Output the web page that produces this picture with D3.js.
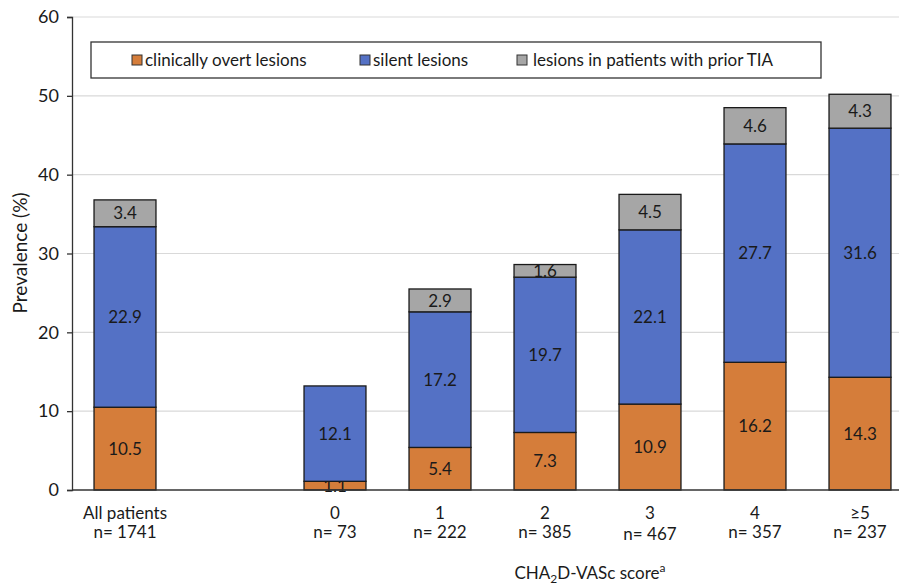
<!DOCTYPE html>
<html>
<head>
<meta charset="utf-8">
<script src="https://cdn.jsdelivr.net/npm/d3@7"></script>
<style>
  body { margin: 0; background: #fff; }
  text { font-family: Lato, "Open Sans", sans-serif; fill: #1a1a1a; }
</style>
</head>
<body>
<div id="chart"></div>
<script>
// chart values
const groups = ["All patients", "0", "1", "2", "3", "4", "\u22655"];
const nLabels = ["n= 1741", "n= 73", "n= 222", "n= 385", "n= 467", "n= 357", "n= 237"];
const overt = [10.5, 1.1, 5.4, 7.3, 10.9, 16.2, 14.3];
const silent = [22.9, 12.1, 17.2, 19.7, 22.1, 27.7, 31.6];
const priorTia = [3.4, 0, 2.9, 1.6, 4.5, 4.6, 4.3];
const seriesNames = ["clinically overt lesions", "silent lesions", "lesions in patients with prior TIA"];
const yTicks = [0, 10, 20, 30, 40, 50, 60];

const colors = ["#d57d3a", "#5471c5", "#a6a6a6"];

const width = 899;
const height = 585;

const svg = d3.select("#chart")
  .append("svg")
  .attr("width", width)
  .attr("height", height);

// the gap slot between "All patients" and the score groups
const domain = [groups[0], "gap"].concat(groups.slice(1));

const x = d3.scaleBand()
  .domain(domain)
  .range([72.5, 912.5])
  .paddingInner(0.41)
  .paddingOuter(0.205);

const y = d3.scaleLinear()
  .domain([0, 60])
  .range([490, 17]);

// gridlines
svg.append("g")
  .selectAll("line")
  .data(yTicks.slice(1)).enter()
  .append("line")
  .attr("x1", 72)
  .attr("x2", width)
  .attr("y1", d => y(d))
  .attr("y2", d => y(d))
  .attr("stroke", "#d9d9d9")
  .attr("stroke-width", 1.2);

// stacked data
const rows = groups.map((g, i) => ({ group: g, overt: overt[i], silent: silent[i], tia: priorTia[i] }));
const stack = d3.stack().keys(["overt", "silent", "tia"]);
const layers = stack(rows);

const barG = svg.append("g");

layers.forEach((layer, k) => {
  const segs = layer.filter(d => d[1] - d[0] > 0);
  barG.append("g")
    .selectAll("rect")
    .data(segs).enter()
    .append("rect")
    .attr("x", d => x(d.data.group))
    .attr("y", d => y(d[1]))
    .attr("width", x.bandwidth())
    .attr("height", d => y(d[0]) - y(d[1]))
    .attr("fill", colors[k])
    .attr("stroke", "#1a1a1a")
    .attr("stroke-width", 1.3);

  barG.append("g")
    .selectAll("text")
    .data(segs).enter()
    .append("text")
    .attr("x", d => x(d.data.group) + x.bandwidth() / 2)
    .attr("y", d => y((d[0] + d[1]) / 2))
    .attr("dy", "0.36em")
    .attr("text-anchor", "middle")
    .style("font-size", "17px")
    .text(d => (d[1] - d[0]).toFixed(1));
});

// y axis
const yAxis = svg.append("g")
  .attr("transform", "translate(72,0)")
  .call(d3.axisLeft(y).tickValues(yTicks).tickSize(5).tickPadding(8));
yAxis.select(".domain").attr("stroke", "#333").attr("stroke-width", 1.3);
yAxis.selectAll(".tick line").attr("stroke", "#333").attr("stroke-width", 1.3);
yAxis.selectAll(".tick text")
  .style("font-size", "18px")
  .style("font-family", "Lato, sans-serif")
  .attr("fill", "#1a1a1a");

// x baseline
svg.append("line")
  .attr("x1", 72)
  .attr("x2", width)
  .attr("y1", y(0))
  .attr("y2", y(0))
  .attr("stroke", "#333")
  .attr("stroke-width", 1.5);

// category labels
const catG = svg.append("g");
catG.selectAll("text.cat")
  .data(groups).enter()
  .append("text")
  .attr("class", "cat")
  .attr("x", d => x(d) + x.bandwidth() / 2)
  .attr("y", 519)
  .attr("text-anchor", "middle")
  .style("font-size", "17px")
  .text(d => d);

catG.selectAll("text.n")
  .data(nLabels).enter()
  .append("text")
  .attr("class", "n")
  .attr("x", (d, i) => x(groups[i]) + x.bandwidth() / 2)
  .attr("y", (d, i) => i === 4 ? 540 : 538)
  .attr("text-anchor", "middle")
  .style("font-size", "17px")
  .text(d => d);

// axis titles
svg.append("text")
  .attr("transform", "rotate(-90)")
  .attr("x", -253)
  .attr("y", 27)
  .attr("text-anchor", "middle")
  .style("font-size", "19px")
  .text("Prevalence (%)");

const xt = svg.append("text")
  .attr("x", 590)
  .attr("y", 579)
  .attr("text-anchor", "middle")
  .style("font-size", "17px");
xt.append("tspan").text("CHA");
xt.append("tspan").attr("dy", 4).style("font-size", "12px").text("2");
xt.append("tspan").attr("dy", -4).text("D-VASc score");
xt.append("tspan").attr("dy", -7).style("font-size", "12px").text("a");

// legend
const legend = svg.append("g");
legend.append("rect")
  .attr("x", 91)
  .attr("y", 42)
  .attr("width", 730)
  .attr("height", 36)
  .attr("fill", "#fff")
  .attr("stroke", "#333")
  .attr("stroke-width", 1.3);

const legendX = [132, 360, 517];
seriesNames.forEach((name, i) => {
  legend.append("rect")
    .attr("x", legendX[i])
    .attr("y", 55)
    .attr("width", 10)
    .attr("height", 10)
    .attr("fill", colors[i])
    .attr("stroke", "#333")
    .attr("stroke-width", 1);
  legend.append("text")
    .attr("x", legendX[i] + (i === 2 ? 16 : 13))
    .attr("y", 60)
    .attr("dy", "0.36em")
    .style("font-size", "17px")
    .text(name);
});
</script>
</body>
</html>
